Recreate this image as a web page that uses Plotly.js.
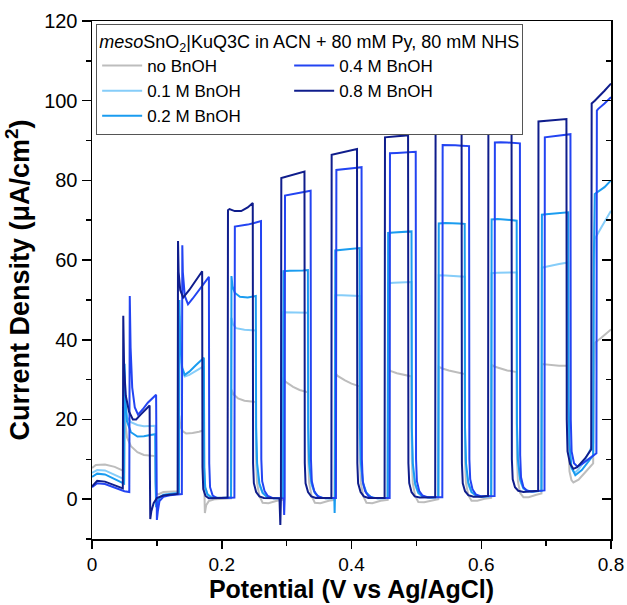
<!DOCTYPE html>
<html><head><meta charset="utf-8">
<script src="https://cdn.plot.ly/plotly-3.0.1.min.js"></script>
<style>html,body{margin:0;padding:0;background:#fff}#chart{width:627px;height:605px}</style>
</head><body><div id="chart"></div>
<script>
// ---- data: [potential (V vs Ag/AgCl), current density (uA/cm2)] ----
const seriesNames = ['no BnOH', '0.1 M BnOH', '0.2 M BnOH', '0.4 M BnOH', '0.8 M BnOH'];
const legendTitle = '<i>meso</i>SnO<sub>2</sub>|KuQ3C in ACN + 80 mM Py, 80 mM NHS';
const xTickVals = [0, 0.2, 0.4, 0.6, 0.8];
const xTickText = ['0', '0.2', '0.4', '0.6', '0.8'];
const yTickVals = [0, 20, 40, 60, 80, 100, 120];

const noBnOH = [
[0,7.8],[0.006,8.6],[0.02,8.7],[0.035,8.1],[0.0495,7.0],
[0.0502,27],[0.0515,19],[0.054,15.5],[0.06,13.3],[0.07,11.8],[0.08,11.1],[0.0975,10.8],
[0.098,4],[0.099,1.5],[0.102,1.2],[0.11,1.8],[0.134,2.0],
[0.1347,21],[0.136,18.5],[0.14,17],[0.145,16.5],[0.155,16.6],[0.165,16.9],[0.1725,17.3],
[0.173,4],[0.174,-3.5],[0.176,-1.5],[0.18,-0.5],[0.19,0],[0.2143,0.2],
[0.215,27.5],[0.218,26.3],[0.225,25.3],[0.235,24.7],[0.2525,24.4],
[0.253,10],[0.2545,4],[0.258,0.8],[0.263,-0.9],[0.272,-1],[0.285,-0.4],[0.2945,-0.2],
[0.2952,30.5],[0.298,29.5],[0.31,28.2],[0.32,27.4],[0.3328,26.8],
[0.3333,10],[0.3348,4],[0.3385,0.8],[0.3435,-0.9],[0.352,-1],[0.365,-0.4],[0.374,-0.2],
[0.3745,31.8],[0.378,31],[0.39,29.8],[0.4,29],[0.4125,28.3],
[0.413,10],[0.4145,4],[0.418,0.8],[0.423,-0.9],[0.432,-1],[0.445,-0.4],[0.4558,-0.2],
[0.4565,32.6],[0.46,32.2],[0.47,31.6],[0.48,31.2],[0.4925,30.8],
[0.493,10],[0.4945,4],[0.498,0.8],[0.503,-0.7],[0.512,-0.8],[0.525,-0.3],[0.5338,0],
[0.5345,33.2],[0.54,32.8],[0.55,32.3],[0.56,31.9],[0.5745,31.4],
[0.575,10],[0.5765,4],[0.58,1],[0.585,-0.4],[0.594,-0.4],[0.605,0.1],[0.6153,0.3],
[0.616,33.7],[0.62,33.3],[0.63,32.8],[0.64,32.3],[0.6546,31.9],
[0.655,11],[0.6565,4.5],[0.66,1.5],[0.665,0.5],[0.673,0.5],[0.685,1.1],[0.6928,1.4],
[0.6935,33.9],[0.7,33.8],[0.71,33.6],[0.72,33.5],[0.734,33.5],
[0.7345,14],[0.736,7],[0.739,4.8],[0.742,4.2],[0.75,4.9],[0.76,6.7],[0.7725,9.0],
[0.7735,30],[0.775,39.2],[0.785,40.5],[0.8,42.6]
];

const bnoh01 = [
[0,6.6],[0.008,7.3],[0.02,7.2],[0.035,6.1],[0.0495,5.0],
[0.0502,31],[0.0515,23.5],[0.054,20.5],[0.06,19.3],[0.07,18.6],[0.08,18.3],[0.0975,18.4],
[0.098,5],[0.0988,-1.5],[0.1,-1.2],[0.104,0.5],[0.11,1.2],[0.12,1.4],[0.134,1.6],
[0.1347,46],[0.136,37],[0.139,32],[0.143,30.8],[0.15,31.2],[0.16,32.1],[0.1725,33.4],
[0.173,8],[0.1745,3],[0.178,1.2],[0.184,0.4],[0.2,0.3],[0.2143,0.4],
[0.215,45.5],[0.217,44],[0.222,42.9],[0.235,42.5],[0.2525,42.3],
[0.253,15],[0.2545,7.5],[0.258,3.5],[0.263,1.5],[0.27,0.5],[0.28,0.2],[0.2945,0.3],
[0.2952,46.9],[0.305,46.9],[0.315,46.8],[0.325,46.8],[0.3328,46.8],
[0.3333,15],[0.3348,7.5],[0.3385,3.5],[0.3435,1.5],[0.35,0.5],[0.36,0.2],[0.3742,0.3],
[0.3748,51.2],[0.385,51.2],[0.395,51.1],[0.405,51.0],[0.4125,51.0],
[0.413,15],[0.4145,7.5],[0.418,3.5],[0.423,1.5],[0.43,0.5],[0.44,0.2],[0.4558,0.3],
[0.4565,54.2],[0.465,54.3],[0.475,54.4],[0.485,54.5],[0.4925,54.5],
[0.493,15],[0.4945,7.5],[0.498,3.5],[0.503,1.5],[0.51,0.6],[0.52,0.4],[0.5338,0.5],
[0.5345,56.2],[0.545,56.1],[0.555,56],[0.565,55.9],[0.5745,55.8],
[0.575,15],[0.5765,7.5],[0.58,3.6],[0.585,1.7],[0.592,0.9],[0.6,0.6],[0.6153,0.8],
[0.616,56.7],[0.625,56.8],[0.635,56.8],[0.645,56.9],[0.6546,56.9],
[0.655,16],[0.6565,8.5],[0.66,4.5],[0.665,2.6],[0.672,2],[0.68,1.9],[0.6928,2.1],
[0.6935,58.1],[0.7,58.3],[0.71,58.7],[0.72,59.0],[0.734,59.4],
[0.7345,22],[0.736,12],[0.739,7.8],[0.744,6.6],[0.75,7.5],[0.76,9.8],[0.7725,14],
[0.7735,55],[0.775,65.3],[0.785,68.2],[0.8,72.4]
];

const bnoh02 = [
[0,5.6],[0.008,6.4],[0.02,6.2],[0.035,5.0],[0.0495,3.9],
[0.0502,34],[0.0515,25],[0.054,19.5],[0.06,16.8],[0.07,15.7],[0.08,15.8],[0.09,16.1],[0.0975,16.3],
[0.098,5],[0.0988,-2],[0.1,-1.6],[0.104,0.3],[0.11,1.0],[0.12,1.3],[0.134,1.5],
[0.1347,50],[0.136,40],[0.139,33],[0.143,31.2],[0.15,32],[0.16,33.6],[0.1725,35.5],
[0.173,8],[0.1745,3],[0.178,1.2],[0.184,0.4],[0.2,0.3],[0.2143,0.4],
[0.215,56],[0.2165,53.5],[0.22,51.8],[0.228,50.8],[0.24,50.6],[0.2525,51],
[0.253,18],[0.2545,9],[0.258,4],[0.263,1.6],[0.27,0.5],[0.28,0.2],[0.2945,0.3],
[0.2952,57.2],[0.305,57.3],[0.315,57.3],[0.325,57.4],[0.3328,57.5],
[0.3333,18],[0.3348,9],[0.3385,4],[0.3435,1.6],[0.35,0.5],[0.36,0.2],[0.3735,0.2],[0.374,-3.5],[0.3745,0.5],
[0.375,62.4],[0.385,62.6],[0.395,62.7],[0.405,62.9],[0.4125,63],
[0.413,18],[0.4145,9],[0.418,4],[0.423,1.6],[0.43,0.5],[0.44,0.2],[0.4558,0.3],
[0.4565,66.8],[0.465,66.9],[0.475,67],[0.485,67.1],[0.4925,67.2],
[0.493,18],[0.4945,9],[0.498,4],[0.503,1.6],[0.51,0.6],[0.52,0.4],[0.5338,0.5],
[0.5345,69.2],[0.545,69.3],[0.555,69.3],[0.565,69.2],[0.5745,69.1],
[0.575,18],[0.5765,9],[0.58,4.2],[0.585,1.8],[0.592,0.9],[0.6,0.6],[0.6153,0.8],
[0.616,70.2],[0.625,70.3],[0.635,70.2],[0.645,70],[0.6546,69.9],
[0.655,19],[0.6565,10],[0.66,5],[0.665,2.8],[0.672,2],[0.68,1.9],[0.6928,2.1],
[0.6935,71.4],[0.7,71.5],[0.71,71.7],[0.72,71.8],[0.734,72],
[0.7345,25],[0.736,14],[0.739,8],[0.745,6],[0.755,7.3],[0.765,9.3],[0.7725,11],
[0.7735,60],[0.775,76.6],[0.79,78.3],[0.8,80]
];

const bnoh04 = [
[0,3.0],[0.008,4.0],[0.02,3.8],[0.035,2.8],[0.05,2.0],[0.0575,1.8],
[0.0582,51],[0.0595,38],[0.062,28],[0.066,23],[0.071,21.2],[0.078,22.5],[0.086,24.2],[0.0988,26.2],
[0.0993,6],[0.1,-5.2],[0.1015,-3],[0.104,-0.5],[0.11,0.6],[0.12,1],[0.1385,1.3],
[0.1392,63.7],[0.14,57],[0.143,51],[0.148,48.9],[0.155,50.3],[0.165,52.4],[0.1802,55.8],
[0.1807,9],[0.182,3],[0.186,0.9],[0.192,0.3],[0.205,0.3],[0.2195,0.4],
[0.2202,68.4],[0.23,68.6],[0.24,68.9],[0.25,69.3],[0.2605,69.8],
[0.261,10],[0.2623,4.5],[0.266,2],[0.271,0.8],[0.278,0.3],[0.2955,0.2],[0.2962,-4],[0.297,0.3],
[0.2975,76.2],[0.305,76.4],[0.315,76.7],[0.325,77],[0.337,77.4],
[0.3375,10],[0.3388,4.5],[0.3425,2],[0.3475,0.8],[0.355,0.3],[0.376,0.3],
[0.3767,82.6],[0.385,82.8],[0.395,83],[0.405,83.1],[0.4155,83.3],
[0.416,10],[0.4173,4.5],[0.421,2],[0.426,0.8],[0.433,0.3],[0.4588,0.3],
[0.4593,86.8],[0.47,86.9],[0.48,87],[0.49,87.1],[0.499,87.2],
[0.4995,10],[0.5008,4.5],[0.5045,2],[0.5095,0.9],[0.517,0.5],[0.54,0.5],
[0.5405,88.9],[0.55,88.9],[0.56,88.8],[0.57,88.7],[0.5812,88.6],
[0.5817,10],[0.583,5],[0.5865,2.5],[0.5915,1.2],[0.6,0.7],[0.6205,0.8],
[0.621,89.5],[0.63,89.6],[0.64,89.5],[0.65,89.4],[0.6596,89.3],
[0.66,11],[0.6613,5.5],[0.665,3],[0.67,2.2],[0.678,1.9],[0.6975,2.2],
[0.698,90.8],[0.71,91.1],[0.72,91.3],[0.7375,91.6],
[0.738,20],[0.7393,12],[0.743,9],[0.748,8.2],[0.755,8.8],[0.765,10],[0.7775,11.5],
[0.7782,97.5],[0.78,97.9],[0.79,99.3],[0.8,100.9]
];

const bnoh08 = [
[0,3.2],[0.008,4.6],[0.02,4.4],[0.035,3.4],[0.0475,2.7],
[0.0482,46],[0.0495,33],[0.052,26],[0.057,22],[0.063,20],[0.068,20],[0.075,21.2],[0.082,22.4],[0.0888,23.5],
[0.0893,6],[0.0898,-5],[0.0915,-3],[0.095,-1],[0.1,0.3],[0.11,0.9],[0.12,1.1],[0.132,1.3],
[0.1326,64.8],[0.1335,57],[0.136,52.5],[0.1405,50.6],[0.15,52.5],[0.16,54.8],[0.1698,57.2],
[0.1703,8],[0.1715,2.5],[0.175,0.8],[0.18,0.2],[0.195,0.3],[0.209,0.4],
[0.2096,72.5],[0.212,72.8],[0.22,72.3],[0.23,72.3],[0.24,73.2],[0.2478,74.3],
[0.2483,9],[0.2495,4],[0.253,1.8],[0.258,0.7],[0.265,0.3],[0.28,0.2],[0.289,0.2],[0.2903,-6.5],[0.2912,0.3],
[0.2918,80.6],[0.3,81],[0.31,81.3],[0.32,81.8],[0.3275,82.2],
[0.328,9],[0.3292,4],[0.333,1.8],[0.338,0.7],[0.345,0.3],[0.36,0.2],[0.369,0.3],
[0.3694,86.4],[0.38,86.8],[0.39,87.2],[0.4,87.6],[0.4085,87.9],
[0.409,9],[0.4102,4],[0.414,1.8],[0.419,0.7],[0.426,0.3],[0.44,0.2],[0.451,0.3],
[0.4516,90.8],[0.46,91],[0.47,91.1],[0.48,91.2],[0.4872,91.3],
[0.4877,9],[0.489,4],[0.4925,1.8],[0.4975,0.7],[0.505,0.4],[0.52,0.4],[0.529,0.5],
[0.5296,92.8],[0.54,93],[0.55,93],[0.56,92.8],[0.5697,92.7],
[0.5702,9],[0.5715,4],[0.575,2],[0.58,1],[0.588,0.6],[0.6,0.6],[0.6105,0.8],
[0.611,93.4],[0.62,93.6],[0.63,93.7],[0.64,93.5],[0.6467,93.6],
[0.6472,10],[0.6485,5],[0.652,3],[0.657,2.1],[0.665,1.8],[0.68,1.9],[0.6877,2.1],
[0.6882,94.8],[0.7,95],[0.71,95.1],[0.72,95.3],[0.7313,95.4],
[0.7318,20],[0.733,12],[0.737,8.8],[0.742,7.6],[0.748,8],[0.76,10.2],[0.7695,12.5],
[0.7702,99.3],[0.775,100],[0.78,100.8],[0.79,102.5],[0.8,104.3]
];

// ---- drawing ----
const FONT = 'Liberation Sans, Arial, Helvetica, sans-serif';
const seriesData = [noBnOH, bnoh01, bnoh02, bnoh04, bnoh08];
const seriesColors = ['#bdbdbd', '#86cdf9', '#1a9cf0', '#2344f2', '#0f1d8c'];
const legendRanks = [1, 3, 5, 2, 4];

const traces = seriesData.map((d, i) => ({
  type: 'scatter', mode: 'lines',
  x: d.map(p => p[0]), y: d.map(p => p[1]),
  name: seriesNames[i],
  legendrank: legendRanks[i],
  line: {color: seriesColors[i], width: 2},
  hoverinfo: 'skip'
}));
traces.push({type: 'scatter', x: [], y: [], yaxis: 'y2', showlegend: false, hoverinfo: 'skip'});

const layout = {
  width: 627, height: 605,
  margin: {l: 92, r: 16, t: 21, b: 66},
  paper_bgcolor: '#fff', plot_bgcolor: '#fff',
  font: {family: FONT, color: '#000'},
  showlegend: true,
  xaxis: {
    range: [0, 0.8], autorange: false,
    tickvals: xTickVals, ticktext: xTickText,
    ticks: 'outside', ticklen: 8, tickwidth: 1.5, tickcolor: '#000',
    minor: {dtick: 0.1, tick0: 0, ticks: 'outside', ticklen: 5, tickwidth: 1.5, tickcolor: '#000'},
    showline: true, linecolor: '#000', linewidth: 1.5, mirror: true,
    showgrid: false, zeroline: false,
    tickfont: {size: 19, family: FONT, color: '#000'},
    title: {text: 'Potential (V vs Ag/AgCl)', font: {size: 25, family: FONT, weight: 'bold', color: '#000'}, standoff: 6}
  },
  yaxis: {
    range: [-10, 120], autorange: false,
    tickvals: yTickVals,
    ticks: 'outside', ticklen: 9, tickwidth: 1.5, tickcolor: '#000',
    minor: {dtick: 10, tick0: 0, ticks: 'outside', ticklen: 5, tickwidth: 1.5, tickcolor: '#000'},
    showline: true, linecolor: '#000', linewidth: 1.5, mirror: true,
    showgrid: false, zeroline: false,
    tickfont: {size: 20, family: FONT, color: '#000'},
    title: {text: 'Current Density (μA/cm<sup>2</sup>)', font: {size: 27, family: FONT, weight: 'bold', color: '#000'}, standoff: 6}
  },
  yaxis2: {
    overlaying: 'y', side: 'right', anchor: 'x',
    range: [-10, 120], autorange: false,
    tickvals: yTickVals,
    ticks: 'inside', ticklen: 9, tickwidth: 1.5, tickcolor: '#000',
    minor: {dtick: 10, tick0: 0, ticks: 'inside', ticklen: 5, tickwidth: 1.5, tickcolor: '#000'},
    showline: false, showgrid: false, zeroline: false, showticklabels: false
  },
  legend: {
    x: 0.008, y: 0.995, xanchor: 'left', yanchor: 'top',
    orientation: 'h', entrywidth: 137, entrywidthmode: 'pixels', itemwidth: 40,
    bgcolor: '#fff', bordercolor: '#555', borderwidth: 1,
    font: {size: 17, family: FONT, color: '#000'},
    title: {text: legendTitle, side: 'top', font: {size: 18, family: FONT, color: '#000'}},
    traceorder: 'normal'
  }
};

Plotly.newPlot('chart', traces, layout, {staticPlot: true, displayModeBar: false});
</script></body></html>
